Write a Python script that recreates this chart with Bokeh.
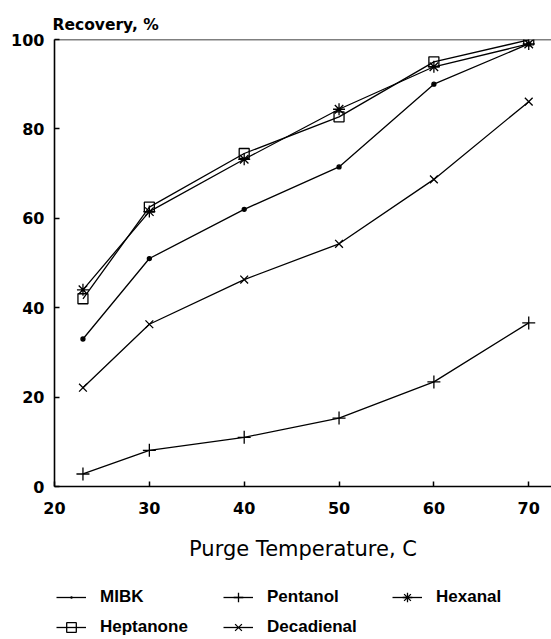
from bokeh.plotting import figure
from bokeh.layouts import column
from bokeh.models import Legend, LegendItem, Span, Range1d, FixedTicker
from bokeh.embed import file_html
from bokeh.resources import INLINE

temperature = [23, 30, 40, 50, 60, 70]
mibk = [33.0, 51.0, 62.0, 71.5, 90.0, 99.0]
pentanol = [2.8, 8.1, 11.0, 15.3, 23.4, 36.6]
hexanal = [44.0, 61.5, 73.2, 84.4, 93.9, 99.0]
heptanone = [42.0, 62.5, 74.5, 82.7, 95.0, 99.9]
decadienal = [22.1, 36.3, 46.3, 54.3, 68.7, 86.1]
x_ticks = [20, 30, 40, 50, 60, 70]
y_ticks = [0, 20, 40, 60, 80, 100]

p = figure(width=551, height=575, output_backend="svg", toolbar_location=None,
           x_range=Range1d(20, 72.4), y_range=Range1d(0, 100),
           min_border_left=54, min_border_top=39, min_border_bottom=89,
           min_border_right=0)
p.outline_line_color = None
p.xgrid.visible = False
p.ygrid.visible = False

p.title.text = "Recovery, %"
p.title.align = "left"
p.title.offset = -2
p.title.standoff = 11
p.title.text_font = "DejaVu Sans"
p.title.text_font_style = "bold"
p.title.text_font_size = "15.5px"
p.title.text_color = "black"

for ax in (p.xaxis[0], p.yaxis[0]):
    ax.axis_line_width = 1.6
    ax.axis_line_color = "black"
    ax.major_tick_in = 5
    ax.major_tick_out = 0
    ax.major_tick_line_width = 1.5
    ax.major_tick_line_color = "black"
    ax.minor_tick_line_color = None
    ax.major_label_text_font = "DejaVu Sans"
    ax.major_label_text_font_style = "bold"
    ax.major_label_text_font_size = "16px"
    ax.major_label_text_color = "black"

p.xaxis.ticker = FixedTicker(ticks=x_ticks)
p.yaxis.ticker = FixedTicker(ticks=y_ticks)
p.xaxis.major_label_standoff = 15
p.yaxis.major_label_standoff = 10
p.xaxis.axis_label = "Purge Temperature, C"
p.xaxis.axis_label_text_font = "DejaVu Sans"
p.xaxis.axis_label_text_font_style = "normal"
p.xaxis.axis_label_text_font_size = "21px"
p.xaxis.axis_label_text_color = "black"
p.xaxis.axis_label_standoff = 20

p.add_layout(Span(location=100, dimension="width", line_color="black", line_width=1.6))

# name, values, marker in chart, size in chart, marker in legend, fill
styles = [
    ("MIBK", mibk, "circle", 4, "dot", "black"),
    ("Pentanol", pentanol, "cross", 13, "cross", None),
    ("Hexanal", hexanal, "asterisk", 12, "asterisk", None),
    ("Heptanone", heptanone, "square", 10, "square", None),
    ("Decadienal", decadienal, "x", 11, "x", None),
]

# legend strip below the chart (its own plot; series lie outside its view)
lg = figure(width=551, height=64, output_backend="svg", toolbar_location=None,
            x_axis_location=None, y_axis_location=None,
            x_range=Range1d(0, 1), y_range=Range1d(0, 1),
            min_border_left=0, min_border_right=0, min_border_top=0,
            min_border_bottom=0)
lg.grid.visible = False
lg.outline_line_color = None

rend = {}
for name, vals, marker, size, lmarker, fill in styles:
    p.line(temperature, vals, line_color="black", line_width=1.3)
    p.scatter(temperature, vals, marker=marker, size=size, line_color="black",
              fill_color=fill, line_width=1.3)
    ln = lg.line(temperature, vals, line_color="black", line_width=1.3)
    mk = lg.scatter(temperature, vals, marker=lmarker, size=size, line_color="black",
                    fill_color=fill, line_width=1.3)
    rend[name] = [ln, mk]


def make_legend(names, loc):
    leg = Legend(items=[LegendItem(label=n, renderers=rend[n]) for n in names],
                 location=loc, orientation="vertical", padding=0, margin=0,
                 border_line_color=None, background_fill_alpha=0,
                 glyph_width=30, glyph_height=24, label_height=24,
                 label_standoff=14, spacing=6,
                 label_text_font="Liberation Sans", label_text_font_style="bold",
                 label_text_font_size="17px", label_text_color="black")
    lg.add_layout(leg)


make_legend(["MIBK", "Heptanone"], (2, 0))
make_legend(["Pentanol", "Decadienal"], (169, 0))
make_legend(["Hexanal"], (338, 30))

layout = column(p, lg, spacing=0)
open("out.html", "w").write(file_html(layout, INLINE))
